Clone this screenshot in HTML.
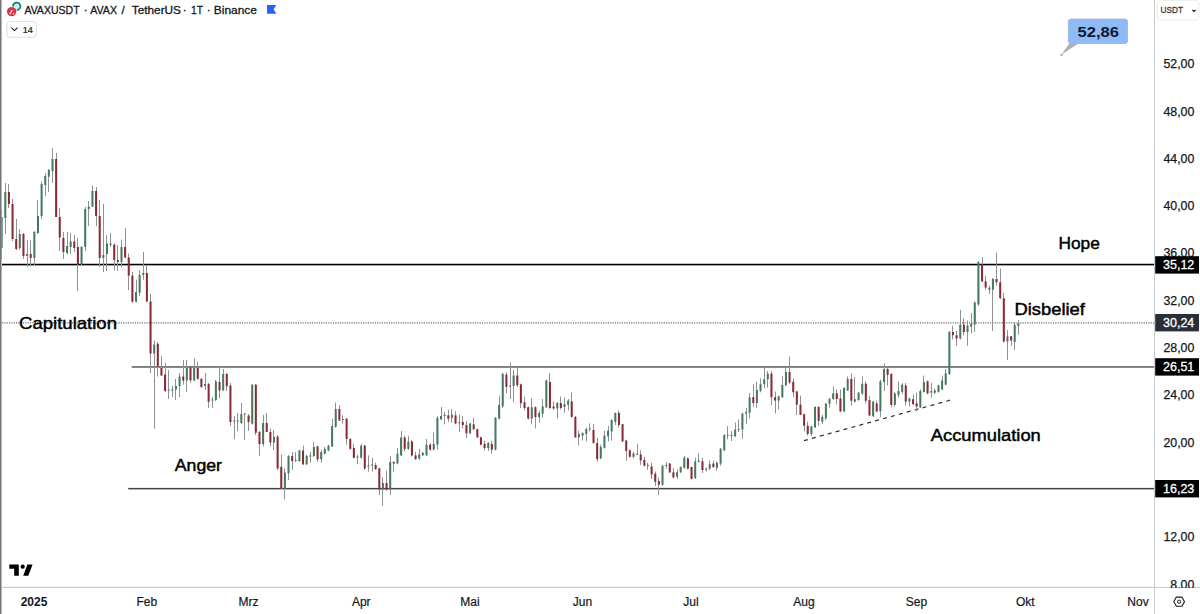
<!DOCTYPE html>
<html><head><meta charset="utf-8"><style>
html,body{margin:0;padding:0;width:1200px;height:614px;overflow:hidden;background:#fff;}
svg{position:absolute;left:0;top:0;font-family:"Liberation Sans",sans-serif;}
.ax{font-size:12.8px;fill:#131722;stroke:#131722;stroke-width:0.25px;}
.tag{font-size:12.5px;fill:#fff;stroke:#fff;stroke-width:0.3px;}
.m{font-size:12px;fill:#131722;stroke:#131722;stroke-width:0.2px;}
.mb{font-size:12px;fill:#131722;font-weight:bold;}
.ann{font-size:17px;fill:#000;stroke:#000;stroke-width:0.45px;}
.ttl{font-size:11.6px;fill:#131722;stroke:#131722;stroke-width:0.3px;}
</style></head><body>
<svg width="1200" height="614" viewBox="0 0 1200 614">
<rect x="0" y="0" width="1200" height="614" fill="#fff"/>
<line x1="2" y1="322.9" x2="1155" y2="322.9" stroke="#707070" stroke-width="1.4" stroke-dasharray="1.2 1.13"/>
<rect x="2" y="263.75" width="1153" height="1.6" fill="#000"/>
<rect x="131.7" y="366.2" width="1023" height="1.5" fill="#5a5a5a"/>
<rect x="128.2" y="487.9" width="1027" height="1.5" fill="#444"/>
<line x1="804" y1="440.6" x2="950" y2="400.2" stroke="#333" stroke-width="1.25" stroke-dasharray="4 4.2"/>
<g>
<rect x="1" y="210.0" width="1" height="49.0" fill="#909194"/>
<rect x="0.65" y="217.0" width="2.05" height="31.0" fill="#467a5f"/>
<rect x="5" y="183.0" width="1" height="51.0" fill="#909194"/>
<rect x="4.28" y="192.0" width="2.05" height="26.0" fill="#467a5f"/>
<rect x="8" y="184.0" width="1" height="24.0" fill="#909194"/>
<rect x="7.91" y="192.0" width="2.05" height="12.0" fill="#8a2a36"/>
<rect x="12" y="199.0" width="1" height="42.0" fill="#909194"/>
<rect x="11.54" y="204.0" width="2.05" height="35.0" fill="#8a2a36"/>
<rect x="16" y="219.0" width="1" height="31.0" fill="#909194"/>
<rect x="15.17" y="239.0" width="2.05" height="10.0" fill="#8a2a36"/>
<rect x="19" y="229.0" width="1" height="21.0" fill="#909194"/>
<rect x="18.80" y="234.0" width="2.05" height="14.0" fill="#467a5f"/>
<rect x="23" y="233.0" width="1" height="26.0" fill="#909194"/>
<rect x="22.43" y="234.0" width="2.05" height="22.0" fill="#8a2a36"/>
<rect x="27" y="240.0" width="1" height="27.0" fill="#909194"/>
<rect x="26.06" y="254.0" width="2.05" height="2.0" fill="#467a5f"/>
<rect x="30" y="240.0" width="1" height="26.0" fill="#909194"/>
<rect x="29.69" y="254.0" width="2.05" height="4.0" fill="#8a2a36"/>
<rect x="34" y="231.0" width="1" height="35.0" fill="#909194"/>
<rect x="33.32" y="232.0" width="2.05" height="26.0" fill="#467a5f"/>
<rect x="37" y="200.0" width="1" height="34.0" fill="#909194"/>
<rect x="36.95" y="216.0" width="2.05" height="17.0" fill="#467a5f"/>
<rect x="41" y="181.5" width="1" height="37.5" fill="#909194"/>
<rect x="40.59" y="184.0" width="2.05" height="32.0" fill="#467a5f"/>
<rect x="45" y="173.0" width="1" height="23.0" fill="#909194"/>
<rect x="44.22" y="176.0" width="2.05" height="9.0" fill="#467a5f"/>
<rect x="48" y="169.0" width="1" height="23.0" fill="#909194"/>
<rect x="47.85" y="170.0" width="2.05" height="6.6" fill="#467a5f"/>
<rect x="52" y="148.0" width="1" height="34.7" fill="#909194"/>
<rect x="51.48" y="159.0" width="2.05" height="12.0" fill="#467a5f"/>
<rect x="56" y="153.0" width="1" height="64.0" fill="#909194"/>
<rect x="55.11" y="159.0" width="2.05" height="58.0" fill="#8a2a36"/>
<rect x="59" y="208.0" width="1" height="43.0" fill="#909194"/>
<rect x="58.74" y="217.0" width="2.05" height="20.5" fill="#8a2a36"/>
<rect x="63" y="232.0" width="1" height="27.0" fill="#909194"/>
<rect x="62.37" y="238.0" width="2.05" height="14.0" fill="#8a2a36"/>
<rect x="67" y="232.0" width="1" height="22.5" fill="#909194"/>
<rect x="66.00" y="246.0" width="2.05" height="7.0" fill="#467a5f"/>
<rect x="70" y="233.0" width="1" height="21.0" fill="#909194"/>
<rect x="69.63" y="241.5" width="2.05" height="5.5" fill="#467a5f"/>
<rect x="74" y="235.0" width="1" height="17.0" fill="#909194"/>
<rect x="73.26" y="241.5" width="2.05" height="6.5" fill="#8a2a36"/>
<rect x="77" y="238.0" width="1" height="53.0" fill="#909194"/>
<rect x="76.90" y="247.0" width="2.05" height="17.0" fill="#8a2a36"/>
<rect x="81" y="246.0" width="1" height="19.0" fill="#909194"/>
<rect x="80.53" y="247.0" width="2.05" height="17.0" fill="#467a5f"/>
<rect x="85" y="207.0" width="1" height="44.0" fill="#909194"/>
<rect x="84.16" y="209.0" width="2.05" height="38.0" fill="#467a5f"/>
<rect x="88" y="201.0" width="1" height="25.0" fill="#909194"/>
<rect x="87.79" y="206.5" width="2.05" height="2.5" fill="#467a5f"/>
<rect x="92" y="185.6" width="1" height="21.4" fill="#909194"/>
<rect x="91.42" y="191.0" width="2.05" height="15.5" fill="#467a5f"/>
<rect x="96" y="187.0" width="1" height="39.0" fill="#909194"/>
<rect x="95.05" y="191.0" width="2.05" height="25.0" fill="#8a2a36"/>
<rect x="99" y="200.0" width="1" height="67.0" fill="#909194"/>
<rect x="98.68" y="216.0" width="2.05" height="42.0" fill="#8a2a36"/>
<rect x="103" y="204.0" width="1" height="68.0" fill="#909194"/>
<rect x="102.31" y="255.0" width="2.05" height="3.0" fill="#467a5f"/>
<rect x="106" y="235.0" width="1" height="36.0" fill="#909194"/>
<rect x="105.94" y="243.5" width="2.05" height="10.5" fill="#467a5f"/>
<rect x="110" y="233.0" width="1" height="14.0" fill="#909194"/>
<rect x="109.57" y="243.5" width="2.05" height="1.5" fill="#467a5f"/>
<rect x="114" y="243.5" width="1" height="26.5" fill="#909194"/>
<rect x="113.21" y="244.5" width="2.05" height="15.5" fill="#8a2a36"/>
<rect x="117" y="245.0" width="1" height="26.0" fill="#909194"/>
<rect x="116.84" y="260.0" width="2.05" height="2.0" fill="#8a2a36"/>
<rect x="121" y="239.5" width="1" height="27.5" fill="#909194"/>
<rect x="120.47" y="247.0" width="2.05" height="15.0" fill="#467a5f"/>
<rect x="125" y="228.0" width="1" height="30.0" fill="#909194"/>
<rect x="124.10" y="247.0" width="2.05" height="10.5" fill="#8a2a36"/>
<rect x="128" y="253.5" width="1" height="36.5" fill="#909194"/>
<rect x="127.73" y="257.5" width="2.05" height="18.1" fill="#8a2a36"/>
<rect x="132" y="272.0" width="1" height="31.0" fill="#909194"/>
<rect x="131.36" y="275.6" width="2.05" height="26.1" fill="#8a2a36"/>
<rect x="136" y="279.7" width="1" height="22.8" fill="#909194"/>
<rect x="134.99" y="292.0" width="2.05" height="9.7" fill="#467a5f"/>
<rect x="139" y="270.0" width="1" height="26.0" fill="#909194"/>
<rect x="138.62" y="275.0" width="2.05" height="17.7" fill="#467a5f"/>
<rect x="143" y="252.0" width="1" height="27.7" fill="#909194"/>
<rect x="142.25" y="273.0" width="2.05" height="2.0" fill="#467a5f"/>
<rect x="146" y="265.0" width="1" height="37.0" fill="#909194"/>
<rect x="145.88" y="273.0" width="2.05" height="28.5" fill="#8a2a36"/>
<rect x="150" y="294.0" width="1" height="79.0" fill="#909194"/>
<rect x="149.52" y="301.5" width="2.05" height="52.0" fill="#8a2a36"/>
<rect x="154" y="340.5" width="1" height="88.1" fill="#909194"/>
<rect x="153.15" y="344.6" width="2.05" height="8.9" fill="#467a5f"/>
<rect x="157" y="342.0" width="1" height="34.5" fill="#909194"/>
<rect x="156.78" y="343.7" width="2.05" height="22.8" fill="#8a2a36"/>
<rect x="161" y="356.0" width="1" height="20.0" fill="#909194"/>
<rect x="160.41" y="368.0" width="2.05" height="7.5" fill="#8a2a36"/>
<rect x="165" y="363.0" width="1" height="29.0" fill="#909194"/>
<rect x="164.04" y="374.5" width="2.05" height="16.5" fill="#8a2a36"/>
<rect x="168" y="370.0" width="1" height="29.0" fill="#909194"/>
<rect x="167.67" y="389.5" width="2.05" height="1.0" fill="#467a5f"/>
<rect x="172" y="386.0" width="1" height="11.0" fill="#909194"/>
<rect x="171.30" y="389.5" width="2.05" height="1.0" fill="#467a5f"/>
<rect x="175" y="379.0" width="1" height="21.0" fill="#909194"/>
<rect x="174.93" y="386.0" width="2.05" height="3.5" fill="#467a5f"/>
<rect x="179" y="373.0" width="1" height="24.0" fill="#909194"/>
<rect x="178.56" y="376.5" width="2.05" height="9.5" fill="#467a5f"/>
<rect x="183" y="360.0" width="1" height="24.6" fill="#909194"/>
<rect x="182.19" y="376.5" width="2.05" height="4.1" fill="#8a2a36"/>
<rect x="186" y="360.0" width="1" height="32.0" fill="#909194"/>
<rect x="185.83" y="368.0" width="2.05" height="12.4" fill="#467a5f"/>
<rect x="190" y="365.7" width="1" height="17.1" fill="#909194"/>
<rect x="189.46" y="367.4" width="2.05" height="13.0" fill="#8a2a36"/>
<rect x="194" y="358.4" width="1" height="22.6" fill="#909194"/>
<rect x="193.09" y="368.0" width="2.05" height="12.4" fill="#467a5f"/>
<rect x="197" y="361.7" width="1" height="17.9" fill="#909194"/>
<rect x="196.72" y="368.0" width="2.05" height="10.8" fill="#8a2a36"/>
<rect x="201" y="378.0" width="1" height="10.0" fill="#909194"/>
<rect x="200.35" y="378.8" width="2.05" height="8.2" fill="#8a2a36"/>
<rect x="205" y="373.0" width="1" height="17.0" fill="#909194"/>
<rect x="203.98" y="384.0" width="2.05" height="2.0" fill="#467a5f"/>
<rect x="208" y="383.0" width="1" height="25.0" fill="#909194"/>
<rect x="207.61" y="384.0" width="2.05" height="17.8" fill="#8a2a36"/>
<rect x="212" y="397.0" width="1" height="11.0" fill="#909194"/>
<rect x="211.24" y="399.5" width="2.05" height="1.0" fill="#467a5f"/>
<rect x="215" y="380.0" width="1" height="21.0" fill="#909194"/>
<rect x="214.87" y="381.4" width="2.05" height="18.6" fill="#467a5f"/>
<rect x="219" y="366.5" width="1" height="32.0" fill="#909194"/>
<rect x="218.50" y="382.0" width="2.05" height="8.4" fill="#8a2a36"/>
<rect x="223" y="369.0" width="1" height="22.0" fill="#909194"/>
<rect x="222.14" y="374.0" width="2.05" height="16.4" fill="#467a5f"/>
<rect x="226" y="373.0" width="1" height="18.0" fill="#909194"/>
<rect x="225.77" y="374.0" width="2.05" height="12.3" fill="#8a2a36"/>
<rect x="230" y="383.0" width="1" height="43.0" fill="#909194"/>
<rect x="229.40" y="385.5" width="2.05" height="36.5" fill="#8a2a36"/>
<rect x="234" y="416.0" width="1" height="23.0" fill="#909194"/>
<rect x="233.03" y="420.5" width="2.05" height="1.0" fill="#467a5f"/>
<rect x="237" y="413.0" width="1" height="18.0" fill="#909194"/>
<rect x="236.66" y="420.5" width="2.05" height="1.0" fill="#467a5f"/>
<rect x="241" y="403.0" width="1" height="21.0" fill="#909194"/>
<rect x="240.29" y="414.0" width="2.05" height="9.0" fill="#467a5f"/>
<rect x="244" y="413.0" width="1" height="27.0" fill="#909194"/>
<rect x="243.92" y="413.5" width="2.05" height="1.0" fill="#467a5f"/>
<rect x="248" y="414.0" width="1" height="17.0" fill="#909194"/>
<rect x="247.55" y="415.6" width="2.05" height="6.4" fill="#8a2a36"/>
<rect x="252" y="384.0" width="1" height="40.5" fill="#909194"/>
<rect x="251.18" y="384.7" width="2.05" height="39.0" fill="#467a5f"/>
<rect x="255" y="384.0" width="1" height="51.0" fill="#909194"/>
<rect x="254.81" y="384.7" width="2.05" height="48.0" fill="#8a2a36"/>
<rect x="259" y="431.0" width="1" height="25.0" fill="#909194"/>
<rect x="258.45" y="432.0" width="2.05" height="12.0" fill="#8a2a36"/>
<rect x="263" y="414.8" width="1" height="31.7" fill="#909194"/>
<rect x="262.08" y="423.0" width="2.05" height="21.0" fill="#467a5f"/>
<rect x="266" y="413.0" width="1" height="19.0" fill="#909194"/>
<rect x="265.71" y="423.0" width="2.05" height="9.0" fill="#8a2a36"/>
<rect x="270" y="428.6" width="1" height="17.9" fill="#909194"/>
<rect x="269.34" y="432.0" width="2.05" height="10.5" fill="#8a2a36"/>
<rect x="273" y="430.0" width="1" height="20.0" fill="#909194"/>
<rect x="272.97" y="436.8" width="2.05" height="5.7" fill="#467a5f"/>
<rect x="277" y="435.0" width="1" height="35.0" fill="#909194"/>
<rect x="276.60" y="436.6" width="2.05" height="31.8" fill="#8a2a36"/>
<rect x="281" y="454.6" width="1" height="34.2" fill="#909194"/>
<rect x="280.23" y="466.8" width="2.05" height="21.2" fill="#8a2a36"/>
<rect x="284" y="468.4" width="1" height="30.9" fill="#909194"/>
<rect x="283.86" y="472.5" width="2.05" height="16.3" fill="#467a5f"/>
<rect x="288" y="455.0" width="1" height="25.0" fill="#909194"/>
<rect x="287.49" y="456.0" width="2.05" height="17.3" fill="#467a5f"/>
<rect x="292" y="452.0" width="1" height="18.0" fill="#909194"/>
<rect x="291.12" y="456.0" width="2.05" height="5.0" fill="#8a2a36"/>
<rect x="295" y="452.0" width="1" height="10.0" fill="#909194"/>
<rect x="294.76" y="460.0" width="2.05" height="1.0" fill="#467a5f"/>
<rect x="299" y="449.7" width="1" height="12.3" fill="#909194"/>
<rect x="298.39" y="450.5" width="2.05" height="10.5" fill="#467a5f"/>
<rect x="303" y="445.6" width="1" height="19.4" fill="#909194"/>
<rect x="302.02" y="450.5" width="2.05" height="13.8" fill="#8a2a36"/>
<rect x="306" y="454.6" width="1" height="10.4" fill="#909194"/>
<rect x="305.65" y="456.0" width="2.05" height="8.3" fill="#467a5f"/>
<rect x="310" y="452.0" width="1" height="10.7" fill="#909194"/>
<rect x="309.28" y="455.5" width="2.05" height="1.0" fill="#467a5f"/>
<rect x="313" y="442.0" width="1" height="15.0" fill="#909194"/>
<rect x="312.91" y="447.0" width="2.05" height="9.0" fill="#467a5f"/>
<rect x="317" y="445.6" width="1" height="16.4" fill="#909194"/>
<rect x="316.54" y="446.4" width="2.05" height="13.0" fill="#8a2a36"/>
<rect x="321" y="449.7" width="1" height="13.0" fill="#909194"/>
<rect x="320.17" y="452.0" width="2.05" height="7.4" fill="#467a5f"/>
<rect x="324" y="447.0" width="1" height="7.6" fill="#909194"/>
<rect x="323.80" y="448.9" width="2.05" height="4.8" fill="#467a5f"/>
<rect x="328" y="444.8" width="1" height="6.5" fill="#909194"/>
<rect x="327.44" y="445.6" width="2.05" height="4.9" fill="#467a5f"/>
<rect x="332" y="418.7" width="1" height="28.3" fill="#909194"/>
<rect x="331.07" y="426.0" width="2.05" height="20.4" fill="#467a5f"/>
<rect x="335" y="402.4" width="1" height="25.3" fill="#909194"/>
<rect x="334.70" y="409.0" width="2.05" height="17.9" fill="#467a5f"/>
<rect x="339" y="405.0" width="1" height="16.0" fill="#909194"/>
<rect x="338.33" y="409.0" width="2.05" height="11.4" fill="#8a2a36"/>
<rect x="342" y="415.5" width="1" height="8.1" fill="#909194"/>
<rect x="341.96" y="419.0" width="2.05" height="1.0" fill="#467a5f"/>
<rect x="346" y="418.0" width="1" height="26.8" fill="#909194"/>
<rect x="345.59" y="418.7" width="2.05" height="20.3" fill="#8a2a36"/>
<rect x="350" y="438.3" width="1" height="11.4" fill="#909194"/>
<rect x="349.22" y="439.0" width="2.05" height="9.9" fill="#8a2a36"/>
<rect x="353" y="444.0" width="1" height="14.6" fill="#909194"/>
<rect x="352.85" y="448.0" width="2.05" height="9.8" fill="#8a2a36"/>
<rect x="357" y="454.6" width="1" height="9.7" fill="#909194"/>
<rect x="356.48" y="456.5" width="2.05" height="1.0" fill="#467a5f"/>
<rect x="361" y="444.0" width="1" height="14.6" fill="#909194"/>
<rect x="360.11" y="445.6" width="2.05" height="12.2" fill="#467a5f"/>
<rect x="364" y="444.8" width="1" height="25.2" fill="#909194"/>
<rect x="363.75" y="445.6" width="2.05" height="22.8" fill="#8a2a36"/>
<rect x="368" y="455.4" width="1" height="16.3" fill="#909194"/>
<rect x="367.38" y="465.5" width="2.05" height="1.0" fill="#467a5f"/>
<rect x="372" y="457.8" width="1" height="13.9" fill="#909194"/>
<rect x="371.01" y="464.5" width="2.05" height="1.0" fill="#467a5f"/>
<rect x="375" y="462.7" width="1" height="7.3" fill="#909194"/>
<rect x="374.64" y="465.0" width="2.05" height="4.0" fill="#8a2a36"/>
<rect x="379" y="467.6" width="1" height="27.4" fill="#909194"/>
<rect x="378.27" y="468.4" width="2.05" height="21.2" fill="#8a2a36"/>
<rect x="382" y="477.4" width="1" height="28.4" fill="#909194"/>
<rect x="381.90" y="483.0" width="2.05" height="6.6" fill="#467a5f"/>
<rect x="386" y="470.8" width="1" height="20.0" fill="#909194"/>
<rect x="385.53" y="483.0" width="2.05" height="6.6" fill="#8a2a36"/>
<rect x="390" y="456.0" width="1" height="39.0" fill="#909194"/>
<rect x="389.16" y="462.0" width="2.05" height="27.6" fill="#467a5f"/>
<rect x="393" y="461.0" width="1" height="10.7" fill="#909194"/>
<rect x="392.79" y="462.0" width="2.05" height="1.5" fill="#8a2a36"/>
<rect x="397" y="448.0" width="1" height="16.3" fill="#909194"/>
<rect x="396.42" y="453.7" width="2.05" height="9.8" fill="#467a5f"/>
<rect x="401" y="431.0" width="1" height="25.0" fill="#909194"/>
<rect x="400.06" y="437.5" width="2.05" height="17.9" fill="#467a5f"/>
<rect x="404" y="435.8" width="1" height="15.5" fill="#909194"/>
<rect x="403.69" y="437.5" width="2.05" height="11.4" fill="#8a2a36"/>
<rect x="408" y="435.8" width="1" height="13.9" fill="#909194"/>
<rect x="407.32" y="441.5" width="2.05" height="7.4" fill="#467a5f"/>
<rect x="411" y="440.0" width="1" height="16.5" fill="#909194"/>
<rect x="410.95" y="441.5" width="2.05" height="13.9" fill="#8a2a36"/>
<rect x="415" y="452.0" width="1" height="8.0" fill="#909194"/>
<rect x="414.58" y="455.4" width="2.05" height="3.6" fill="#8a2a36"/>
<rect x="419" y="448.8" width="1" height="11.2" fill="#909194"/>
<rect x="418.21" y="454.5" width="2.05" height="4.0" fill="#467a5f"/>
<rect x="422" y="452.0" width="1" height="4.0" fill="#909194"/>
<rect x="421.84" y="452.8" width="2.05" height="2.5" fill="#467a5f"/>
<rect x="426" y="439.0" width="1" height="17.0" fill="#909194"/>
<rect x="425.47" y="444.7" width="2.05" height="10.6" fill="#467a5f"/>
<rect x="430" y="443.0" width="1" height="8.0" fill="#909194"/>
<rect x="429.10" y="444.7" width="2.05" height="4.9" fill="#8a2a36"/>
<rect x="433" y="432.5" width="1" height="17.9" fill="#909194"/>
<rect x="432.73" y="443.9" width="2.05" height="5.7" fill="#467a5f"/>
<rect x="437" y="416.0" width="1" height="33.6" fill="#909194"/>
<rect x="436.37" y="417.8" width="2.05" height="26.9" fill="#467a5f"/>
<rect x="441" y="407.0" width="1" height="13.0" fill="#909194"/>
<rect x="440.00" y="416.0" width="2.05" height="3.4" fill="#467a5f"/>
<rect x="444" y="412.0" width="1" height="12.3" fill="#909194"/>
<rect x="443.63" y="415.0" width="2.05" height="1.0" fill="#467a5f"/>
<rect x="448" y="409.7" width="1" height="12.2" fill="#909194"/>
<rect x="447.26" y="415.4" width="2.05" height="3.2" fill="#8a2a36"/>
<rect x="451" y="408.9" width="1" height="13.8" fill="#909194"/>
<rect x="450.89" y="414.6" width="2.05" height="3.2" fill="#467a5f"/>
<rect x="455" y="411.3" width="1" height="13.0" fill="#909194"/>
<rect x="454.52" y="415.4" width="2.05" height="8.1" fill="#8a2a36"/>
<rect x="459" y="414.6" width="1" height="17.1" fill="#909194"/>
<rect x="458.15" y="422.2" width="2.05" height="1.0" fill="#467a5f"/>
<rect x="462" y="416.0" width="1" height="12.4" fill="#909194"/>
<rect x="461.78" y="421.9" width="2.05" height="3.1" fill="#8a2a36"/>
<rect x="466" y="421.0" width="1" height="17.0" fill="#909194"/>
<rect x="465.41" y="425.0" width="2.05" height="8.3" fill="#8a2a36"/>
<rect x="470" y="422.7" width="1" height="11.3" fill="#909194"/>
<rect x="469.04" y="423.5" width="2.05" height="9.8" fill="#467a5f"/>
<rect x="473" y="417.8" width="1" height="12.2" fill="#909194"/>
<rect x="472.68" y="424.3" width="2.05" height="4.9" fill="#8a2a36"/>
<rect x="477" y="428.4" width="1" height="9.6" fill="#909194"/>
<rect x="476.31" y="429.2" width="2.05" height="8.2" fill="#8a2a36"/>
<rect x="480" y="436.6" width="1" height="8.9" fill="#909194"/>
<rect x="479.94" y="437.4" width="2.05" height="7.3" fill="#8a2a36"/>
<rect x="484" y="440.6" width="1" height="9.8" fill="#909194"/>
<rect x="483.57" y="443.9" width="2.05" height="4.1" fill="#8a2a36"/>
<rect x="488" y="442.0" width="1" height="9.0" fill="#909194"/>
<rect x="487.20" y="443.0" width="2.05" height="5.0" fill="#467a5f"/>
<rect x="491" y="440.6" width="1" height="13.0" fill="#909194"/>
<rect x="490.83" y="443.9" width="2.05" height="5.7" fill="#8a2a36"/>
<rect x="495" y="417.0" width="1" height="33.4" fill="#909194"/>
<rect x="494.46" y="417.8" width="2.05" height="31.8" fill="#467a5f"/>
<rect x="499" y="395.8" width="1" height="23.6" fill="#909194"/>
<rect x="498.09" y="404.8" width="2.05" height="13.8" fill="#467a5f"/>
<rect x="502" y="373.0" width="1" height="35.0" fill="#909194"/>
<rect x="501.72" y="373.8" width="2.05" height="32.6" fill="#467a5f"/>
<rect x="506" y="372.2" width="1" height="21.2" fill="#909194"/>
<rect x="505.35" y="374.7" width="2.05" height="12.2" fill="#8a2a36"/>
<rect x="510" y="362.4" width="1" height="36.6" fill="#909194"/>
<rect x="508.99" y="385.5" width="2.05" height="1.0" fill="#467a5f"/>
<rect x="513" y="369.8" width="1" height="32.5" fill="#909194"/>
<rect x="512.62" y="375.5" width="2.05" height="10.5" fill="#467a5f"/>
<rect x="517" y="367.3" width="1" height="19.6" fill="#909194"/>
<rect x="516.25" y="375.5" width="2.05" height="9.7" fill="#8a2a36"/>
<rect x="520" y="383.6" width="1" height="24.4" fill="#909194"/>
<rect x="519.88" y="384.4" width="2.05" height="18.8" fill="#8a2a36"/>
<rect x="524" y="396.6" width="1" height="13.9" fill="#909194"/>
<rect x="523.51" y="402.3" width="2.05" height="5.7" fill="#8a2a36"/>
<rect x="528" y="406.4" width="1" height="13.0" fill="#909194"/>
<rect x="527.14" y="407.2" width="2.05" height="11.4" fill="#8a2a36"/>
<rect x="531" y="398.3" width="1" height="26.0" fill="#909194"/>
<rect x="530.77" y="407.2" width="2.05" height="11.4" fill="#467a5f"/>
<rect x="535" y="406.4" width="1" height="22.0" fill="#909194"/>
<rect x="534.40" y="407.2" width="2.05" height="9.8" fill="#8a2a36"/>
<rect x="539" y="410.5" width="1" height="12.2" fill="#909194"/>
<rect x="538.03" y="413.0" width="2.05" height="4.0" fill="#467a5f"/>
<rect x="542" y="399.0" width="1" height="18.8" fill="#909194"/>
<rect x="541.66" y="406.4" width="2.05" height="7.3" fill="#467a5f"/>
<rect x="546" y="379.6" width="1" height="28.4" fill="#909194"/>
<rect x="545.29" y="380.4" width="2.05" height="26.8" fill="#467a5f"/>
<rect x="549" y="373.0" width="1" height="35.9" fill="#909194"/>
<rect x="548.93" y="382.0" width="2.05" height="26.0" fill="#8a2a36"/>
<rect x="553" y="401.5" width="1" height="8.2" fill="#909194"/>
<rect x="552.56" y="406.5" width="2.05" height="2.0" fill="#8a2a36"/>
<rect x="557" y="402.2" width="1" height="16.3" fill="#909194"/>
<rect x="556.19" y="403.0" width="2.05" height="5.5" fill="#467a5f"/>
<rect x="560" y="396.5" width="1" height="13.0" fill="#909194"/>
<rect x="559.82" y="403.0" width="2.05" height="5.0" fill="#8a2a36"/>
<rect x="564" y="397.3" width="1" height="15.5" fill="#909194"/>
<rect x="563.45" y="404.0" width="2.05" height="3.0" fill="#467a5f"/>
<rect x="568" y="399.0" width="1" height="11.4" fill="#909194"/>
<rect x="567.08" y="400.6" width="2.05" height="4.1" fill="#467a5f"/>
<rect x="571" y="392.4" width="1" height="25.3" fill="#909194"/>
<rect x="570.71" y="401.4" width="2.05" height="15.5" fill="#8a2a36"/>
<rect x="575" y="416.0" width="1" height="22.0" fill="#909194"/>
<rect x="574.34" y="416.9" width="2.05" height="20.3" fill="#8a2a36"/>
<rect x="578" y="430.7" width="1" height="14.7" fill="#909194"/>
<rect x="577.97" y="434.0" width="2.05" height="3.2" fill="#467a5f"/>
<rect x="582" y="432.3" width="1" height="8.2" fill="#909194"/>
<rect x="581.60" y="433.0" width="2.05" height="2.6" fill="#467a5f"/>
<rect x="586" y="427.5" width="1" height="13.8" fill="#909194"/>
<rect x="585.24" y="429.0" width="2.05" height="5.0" fill="#467a5f"/>
<rect x="589" y="423.4" width="1" height="8.1" fill="#909194"/>
<rect x="588.87" y="428.5" width="2.05" height="1.0" fill="#467a5f"/>
<rect x="593" y="424.2" width="1" height="19.5" fill="#909194"/>
<rect x="592.50" y="430.0" width="2.05" height="13.0" fill="#8a2a36"/>
<rect x="597" y="438.0" width="1" height="23.7" fill="#909194"/>
<rect x="596.13" y="443.0" width="2.05" height="16.2" fill="#8a2a36"/>
<rect x="600" y="444.6" width="1" height="14.6" fill="#909194"/>
<rect x="599.76" y="447.0" width="2.05" height="11.4" fill="#467a5f"/>
<rect x="604" y="430.7" width="1" height="17.9" fill="#909194"/>
<rect x="603.39" y="435.6" width="2.05" height="12.2" fill="#467a5f"/>
<rect x="608" y="425.8" width="1" height="15.5" fill="#909194"/>
<rect x="607.02" y="430.7" width="2.05" height="5.7" fill="#467a5f"/>
<rect x="611" y="419.3" width="1" height="21.2" fill="#909194"/>
<rect x="610.65" y="420.0" width="2.05" height="11.5" fill="#467a5f"/>
<rect x="615" y="412.8" width="1" height="12.2" fill="#909194"/>
<rect x="614.28" y="412.8" width="2.05" height="9.0" fill="#467a5f"/>
<rect x="618" y="410.4" width="1" height="17.1" fill="#909194"/>
<rect x="617.91" y="412.8" width="2.05" height="12.2" fill="#8a2a36"/>
<rect x="622" y="424.2" width="1" height="17.8" fill="#909194"/>
<rect x="621.55" y="424.2" width="2.05" height="17.1" fill="#8a2a36"/>
<rect x="626" y="439.7" width="1" height="21.1" fill="#909194"/>
<rect x="625.18" y="440.5" width="2.05" height="10.5" fill="#8a2a36"/>
<rect x="629" y="449.5" width="1" height="8.0" fill="#909194"/>
<rect x="628.81" y="450.3" width="2.05" height="6.5" fill="#8a2a36"/>
<rect x="633" y="452.0" width="1" height="6.4" fill="#909194"/>
<rect x="632.44" y="453.5" width="2.05" height="3.3" fill="#467a5f"/>
<rect x="637" y="443.7" width="1" height="11.3" fill="#909194"/>
<rect x="636.07" y="453.8" width="2.05" height="1.0" fill="#467a5f"/>
<rect x="640" y="450.3" width="1" height="14.7" fill="#909194"/>
<rect x="639.70" y="454.5" width="2.05" height="6.0" fill="#8a2a36"/>
<rect x="644" y="456.8" width="1" height="9.7" fill="#909194"/>
<rect x="643.33" y="460.0" width="2.05" height="5.7" fill="#8a2a36"/>
<rect x="647" y="462.7" width="1" height="7.1" fill="#909194"/>
<rect x="646.96" y="464.9" width="2.05" height="1.0" fill="#467a5f"/>
<rect x="651" y="462.7" width="1" height="16.2" fill="#909194"/>
<rect x="650.59" y="466.4" width="2.05" height="8.1" fill="#8a2a36"/>
<rect x="655" y="471.5" width="1" height="14.7" fill="#909194"/>
<rect x="654.22" y="473.7" width="2.05" height="8.1" fill="#8a2a36"/>
<rect x="658" y="477.4" width="1" height="17.6" fill="#909194"/>
<rect x="657.86" y="481.0" width="2.05" height="3.7" fill="#8a2a36"/>
<rect x="662" y="465.0" width="1" height="21.0" fill="#909194"/>
<rect x="661.49" y="465.7" width="2.05" height="19.0" fill="#467a5f"/>
<rect x="666" y="462.0" width="1" height="6.6" fill="#909194"/>
<rect x="665.12" y="465.0" width="2.05" height="1.0" fill="#467a5f"/>
<rect x="669" y="463.0" width="1" height="10.0" fill="#909194"/>
<rect x="668.75" y="463.5" width="2.05" height="8.8" fill="#8a2a36"/>
<rect x="673" y="468.0" width="1" height="10.5" fill="#909194"/>
<rect x="672.38" y="472.3" width="2.05" height="5.1" fill="#8a2a36"/>
<rect x="677" y="469.3" width="1" height="9.6" fill="#909194"/>
<rect x="676.01" y="472.3" width="2.05" height="4.4" fill="#467a5f"/>
<rect x="680" y="466.5" width="1" height="6.5" fill="#909194"/>
<rect x="679.64" y="467.0" width="2.05" height="5.3" fill="#467a5f"/>
<rect x="684" y="456.0" width="1" height="12.6" fill="#909194"/>
<rect x="683.27" y="457.6" width="2.05" height="10.3" fill="#467a5f"/>
<rect x="687" y="457.6" width="1" height="11.9" fill="#909194"/>
<rect x="686.90" y="458.4" width="2.05" height="10.2" fill="#8a2a36"/>
<rect x="691" y="466.5" width="1" height="13.0" fill="#909194"/>
<rect x="690.53" y="467.0" width="2.05" height="11.9" fill="#8a2a36"/>
<rect x="695" y="457.6" width="1" height="21.4" fill="#909194"/>
<rect x="694.17" y="461.3" width="2.05" height="16.8" fill="#467a5f"/>
<rect x="698" y="453.2" width="1" height="9.5" fill="#909194"/>
<rect x="697.80" y="460.6" width="2.05" height="1.2" fill="#467a5f"/>
<rect x="702" y="457.6" width="1" height="15.4" fill="#909194"/>
<rect x="701.43" y="461.3" width="2.05" height="8.7" fill="#8a2a36"/>
<rect x="706" y="467.5" width="1" height="4.0" fill="#909194"/>
<rect x="705.06" y="468.6" width="2.05" height="1.2" fill="#467a5f"/>
<rect x="709" y="460.5" width="1" height="9.5" fill="#909194"/>
<rect x="708.69" y="464.2" width="2.05" height="4.4" fill="#467a5f"/>
<rect x="713" y="460.5" width="1" height="7.5" fill="#909194"/>
<rect x="712.32" y="463.5" width="2.05" height="3.5" fill="#8a2a36"/>
<rect x="716" y="461.3" width="1" height="9.5" fill="#909194"/>
<rect x="715.95" y="462.7" width="2.05" height="5.2" fill="#467a5f"/>
<rect x="720" y="448.0" width="1" height="17.7" fill="#909194"/>
<rect x="719.58" y="448.8" width="2.05" height="14.7" fill="#467a5f"/>
<rect x="724" y="434.2" width="1" height="16.8" fill="#909194"/>
<rect x="723.21" y="435.0" width="2.05" height="15.3" fill="#467a5f"/>
<rect x="727" y="426.0" width="1" height="13.3" fill="#909194"/>
<rect x="726.84" y="434.7" width="2.05" height="1.0" fill="#467a5f"/>
<rect x="731" y="431.0" width="1" height="10.0" fill="#909194"/>
<rect x="730.48" y="435.0" width="2.05" height="1.0" fill="#467a5f"/>
<rect x="735" y="422.5" width="1" height="14.5" fill="#909194"/>
<rect x="734.11" y="429.5" width="2.05" height="6.8" fill="#467a5f"/>
<rect x="738" y="419.3" width="1" height="12.7" fill="#909194"/>
<rect x="737.74" y="429.0" width="2.05" height="1.0" fill="#467a5f"/>
<rect x="742" y="412.7" width="1" height="26.0" fill="#909194"/>
<rect x="741.37" y="413.6" width="2.05" height="15.8" fill="#467a5f"/>
<rect x="746" y="408.0" width="1" height="16.3" fill="#909194"/>
<rect x="745.00" y="411.9" width="2.05" height="1.6" fill="#467a5f"/>
<rect x="749" y="393.0" width="1" height="25.4" fill="#909194"/>
<rect x="748.63" y="397.2" width="2.05" height="15.5" fill="#467a5f"/>
<rect x="753" y="384.2" width="1" height="22.8" fill="#909194"/>
<rect x="752.26" y="397.2" width="2.05" height="5.8" fill="#8a2a36"/>
<rect x="756" y="381.8" width="1" height="26.0" fill="#909194"/>
<rect x="755.89" y="390.0" width="2.05" height="13.0" fill="#467a5f"/>
<rect x="760" y="378.5" width="1" height="13.8" fill="#909194"/>
<rect x="759.52" y="384.2" width="2.05" height="6.5" fill="#467a5f"/>
<rect x="764" y="368.0" width="1" height="20.3" fill="#909194"/>
<rect x="763.15" y="379.3" width="2.05" height="4.9" fill="#467a5f"/>
<rect x="767" y="371.0" width="1" height="16.5" fill="#909194"/>
<rect x="766.79" y="373.6" width="2.05" height="5.7" fill="#467a5f"/>
<rect x="771" y="371.0" width="1" height="34.4" fill="#909194"/>
<rect x="770.42" y="373.6" width="2.05" height="23.6" fill="#8a2a36"/>
<rect x="775" y="391.5" width="1" height="22.0" fill="#909194"/>
<rect x="774.05" y="397.2" width="2.05" height="3.3" fill="#8a2a36"/>
<rect x="778" y="395.6" width="1" height="13.8" fill="#909194"/>
<rect x="777.68" y="396.4" width="2.05" height="4.1" fill="#467a5f"/>
<rect x="782" y="376.0" width="1" height="22.0" fill="#909194"/>
<rect x="781.31" y="385.0" width="2.05" height="12.2" fill="#467a5f"/>
<rect x="785" y="367.0" width="1" height="19.6" fill="#909194"/>
<rect x="784.94" y="372.0" width="2.05" height="13.0" fill="#467a5f"/>
<rect x="789" y="356.5" width="1" height="27.7" fill="#909194"/>
<rect x="788.57" y="372.0" width="2.05" height="10.6" fill="#8a2a36"/>
<rect x="793" y="378.5" width="1" height="18.7" fill="#909194"/>
<rect x="792.20" y="381.8" width="2.05" height="10.5" fill="#8a2a36"/>
<rect x="796" y="390.7" width="1" height="24.3" fill="#909194"/>
<rect x="795.83" y="391.5" width="2.05" height="13.1" fill="#8a2a36"/>
<rect x="800" y="395.6" width="1" height="19.4" fill="#909194"/>
<rect x="799.46" y="404.6" width="2.05" height="10.4" fill="#8a2a36"/>
<rect x="804" y="413.5" width="1" height="17.9" fill="#909194"/>
<rect x="803.10" y="414.3" width="2.05" height="11.4" fill="#8a2a36"/>
<rect x="807" y="421.7" width="1" height="13.8" fill="#909194"/>
<rect x="806.73" y="425.7" width="2.05" height="8.2" fill="#8a2a36"/>
<rect x="811" y="425.7" width="1" height="10.6" fill="#909194"/>
<rect x="810.36" y="426.5" width="2.05" height="7.4" fill="#467a5f"/>
<rect x="815" y="406.2" width="1" height="21.8" fill="#909194"/>
<rect x="813.99" y="407.0" width="2.05" height="20.4" fill="#467a5f"/>
<rect x="818" y="406.2" width="1" height="19.5" fill="#909194"/>
<rect x="817.62" y="407.0" width="2.05" height="13.8" fill="#8a2a36"/>
<rect x="822" y="415.0" width="1" height="9.0" fill="#909194"/>
<rect x="821.25" y="416.8" width="2.05" height="4.9" fill="#467a5f"/>
<rect x="825" y="403.0" width="1" height="17.0" fill="#909194"/>
<rect x="824.88" y="403.7" width="2.05" height="14.7" fill="#467a5f"/>
<rect x="829" y="398.0" width="1" height="9.8" fill="#909194"/>
<rect x="828.51" y="398.9" width="2.05" height="4.8" fill="#467a5f"/>
<rect x="833" y="386.4" width="1" height="13.6" fill="#909194"/>
<rect x="832.14" y="393.3" width="2.05" height="5.7" fill="#467a5f"/>
<rect x="836" y="389.2" width="1" height="15.3" fill="#909194"/>
<rect x="835.77" y="393.3" width="2.05" height="5.7" fill="#8a2a36"/>
<rect x="840" y="389.4" width="1" height="22.8" fill="#909194"/>
<rect x="839.41" y="398.4" width="2.05" height="13.0" fill="#8a2a36"/>
<rect x="844" y="387.5" width="1" height="24.5" fill="#909194"/>
<rect x="843.04" y="387.8" width="2.05" height="23.6" fill="#467a5f"/>
<rect x="847" y="376.4" width="1" height="14.6" fill="#909194"/>
<rect x="846.67" y="378.9" width="2.05" height="11.4" fill="#467a5f"/>
<rect x="851" y="373.2" width="1" height="32.5" fill="#909194"/>
<rect x="850.30" y="378.9" width="2.05" height="21.9" fill="#8a2a36"/>
<rect x="854" y="377.2" width="1" height="25.3" fill="#909194"/>
<rect x="853.93" y="399.2" width="2.05" height="2.4" fill="#467a5f"/>
<rect x="858" y="391.9" width="1" height="8.9" fill="#909194"/>
<rect x="857.56" y="392.7" width="2.05" height="7.3" fill="#467a5f"/>
<rect x="862" y="376.4" width="1" height="18.7" fill="#909194"/>
<rect x="861.19" y="383.7" width="2.05" height="9.8" fill="#467a5f"/>
<rect x="865" y="381.3" width="1" height="22.0" fill="#909194"/>
<rect x="864.82" y="383.7" width="2.05" height="17.1" fill="#8a2a36"/>
<rect x="869" y="396.0" width="1" height="20.3" fill="#909194"/>
<rect x="868.45" y="400.0" width="2.05" height="15.5" fill="#8a2a36"/>
<rect x="873" y="400.8" width="1" height="16.3" fill="#909194"/>
<rect x="872.08" y="401.6" width="2.05" height="14.7" fill="#467a5f"/>
<rect x="876" y="400.8" width="1" height="11.4" fill="#909194"/>
<rect x="875.72" y="403.3" width="2.05" height="8.1" fill="#8a2a36"/>
<rect x="880" y="379.7" width="1" height="37.4" fill="#909194"/>
<rect x="879.35" y="381.3" width="2.05" height="30.1" fill="#467a5f"/>
<rect x="884" y="363.4" width="1" height="27.6" fill="#909194"/>
<rect x="882.98" y="369.0" width="2.05" height="13.0" fill="#467a5f"/>
<rect x="887" y="367.5" width="1" height="17.9" fill="#909194"/>
<rect x="886.61" y="369.0" width="2.05" height="5.8" fill="#8a2a36"/>
<rect x="891" y="373.2" width="1" height="34.2" fill="#909194"/>
<rect x="890.24" y="374.0" width="2.05" height="30.9" fill="#8a2a36"/>
<rect x="894" y="391.9" width="1" height="14.6" fill="#909194"/>
<rect x="893.87" y="393.5" width="2.05" height="11.4" fill="#467a5f"/>
<rect x="898" y="381.3" width="1" height="16.3" fill="#909194"/>
<rect x="897.50" y="391.0" width="2.05" height="4.1" fill="#467a5f"/>
<rect x="902" y="383.0" width="1" height="11.3" fill="#909194"/>
<rect x="901.13" y="384.6" width="2.05" height="7.3" fill="#467a5f"/>
<rect x="905" y="383.0" width="1" height="22.7" fill="#909194"/>
<rect x="904.76" y="385.4" width="2.05" height="16.2" fill="#8a2a36"/>
<rect x="909" y="397.6" width="1" height="8.9" fill="#909194"/>
<rect x="908.39" y="398.4" width="2.05" height="3.2" fill="#467a5f"/>
<rect x="913" y="394.3" width="1" height="10.7" fill="#909194"/>
<rect x="912.03" y="399.2" width="2.05" height="4.9" fill="#8a2a36"/>
<rect x="916" y="392.7" width="1" height="18.7" fill="#909194"/>
<rect x="915.66" y="403.3" width="2.05" height="3.2" fill="#8a2a36"/>
<rect x="920" y="389.5" width="1" height="18.5" fill="#909194"/>
<rect x="919.29" y="391.0" width="2.05" height="16.4" fill="#467a5f"/>
<rect x="923" y="375.6" width="1" height="17.1" fill="#909194"/>
<rect x="922.92" y="382.0" width="2.05" height="9.9" fill="#467a5f"/>
<rect x="927" y="380.5" width="1" height="13.8" fill="#909194"/>
<rect x="926.55" y="381.3" width="2.05" height="12.2" fill="#8a2a36"/>
<rect x="931" y="383.0" width="1" height="14.6" fill="#909194"/>
<rect x="930.18" y="391.0" width="2.05" height="1.7" fill="#467a5f"/>
<rect x="934" y="388.6" width="1" height="5.7" fill="#909194"/>
<rect x="933.81" y="390.3" width="2.05" height="2.4" fill="#467a5f"/>
<rect x="938" y="384.6" width="1" height="8.1" fill="#909194"/>
<rect x="937.44" y="385.4" width="2.05" height="6.5" fill="#467a5f"/>
<rect x="942" y="375.6" width="1" height="14.7" fill="#909194"/>
<rect x="941.07" y="380.5" width="2.05" height="8.9" fill="#467a5f"/>
<rect x="945" y="369.0" width="1" height="16.4" fill="#909194"/>
<rect x="944.70" y="373.2" width="2.05" height="11.4" fill="#467a5f"/>
<rect x="949" y="331.0" width="1" height="43.8" fill="#909194"/>
<rect x="948.34" y="332.0" width="2.05" height="42.0" fill="#467a5f"/>
<rect x="952" y="325.7" width="1" height="13.7" fill="#909194"/>
<rect x="951.97" y="332.0" width="2.05" height="3.2" fill="#8a2a36"/>
<rect x="956" y="331.0" width="1" height="14.8" fill="#909194"/>
<rect x="955.60" y="335.2" width="2.05" height="3.2" fill="#8a2a36"/>
<rect x="960" y="309.8" width="1" height="29.6" fill="#909194"/>
<rect x="959.23" y="324.6" width="2.05" height="13.8" fill="#467a5f"/>
<rect x="963" y="318.3" width="1" height="16.9" fill="#909194"/>
<rect x="962.86" y="324.6" width="2.05" height="7.4" fill="#8a2a36"/>
<rect x="967" y="320.4" width="1" height="25.4" fill="#909194"/>
<rect x="966.49" y="325.7" width="2.05" height="6.3" fill="#467a5f"/>
<rect x="971" y="313.0" width="1" height="20.0" fill="#909194"/>
<rect x="970.12" y="323.6" width="2.05" height="3.1" fill="#467a5f"/>
<rect x="974" y="301.4" width="1" height="30.6" fill="#909194"/>
<rect x="973.75" y="302.4" width="2.05" height="22.2" fill="#467a5f"/>
<rect x="978" y="261.0" width="1" height="44.6" fill="#909194"/>
<rect x="977.38" y="262.2" width="2.05" height="42.3" fill="#467a5f"/>
<rect x="982" y="257.0" width="1" height="25.3" fill="#909194"/>
<rect x="981.01" y="264.3" width="2.05" height="17.0" fill="#8a2a36"/>
<rect x="985" y="276.0" width="1" height="13.7" fill="#909194"/>
<rect x="984.65" y="281.3" width="2.05" height="6.3" fill="#8a2a36"/>
<rect x="989" y="285.5" width="1" height="8.5" fill="#909194"/>
<rect x="988.28" y="287.6" width="2.05" height="2.1" fill="#467a5f"/>
<rect x="992" y="278.0" width="1" height="53.0" fill="#909194"/>
<rect x="991.91" y="279.0" width="2.05" height="10.7" fill="#467a5f"/>
<rect x="996" y="252.7" width="1" height="32.8" fill="#909194"/>
<rect x="995.54" y="279.0" width="2.05" height="3.3" fill="#8a2a36"/>
<rect x="1000" y="268.6" width="1" height="30.6" fill="#909194"/>
<rect x="999.17" y="282.3" width="2.05" height="15.9" fill="#8a2a36"/>
<rect x="1003" y="292.9" width="1" height="49.7" fill="#909194"/>
<rect x="1002.80" y="298.2" width="2.05" height="43.3" fill="#8a2a36"/>
<rect x="1007" y="330.0" width="1" height="30.0" fill="#909194"/>
<rect x="1006.43" y="336.3" width="2.05" height="5.2" fill="#467a5f"/>
<rect x="1011" y="336.0" width="1" height="10.0" fill="#909194"/>
<rect x="1010.06" y="336.3" width="2.05" height="4.2" fill="#8a2a36"/>
<rect x="1014" y="322.5" width="1" height="27.5" fill="#909194"/>
<rect x="1013.69" y="325.0" width="2.05" height="17.0" fill="#467a5f"/>
<rect x="1018" y="320.0" width="1" height="14.7" fill="#909194"/>
<rect x="1017.32" y="323.0" width="2.05" height="3.0" fill="#467a5f"/>
</g>
<text x="19.0" y="328.8" class="ann" textLength="98" lengthAdjust="spacingAndGlyphs">Capitulation</text>
<text x="174.8" y="470.7" class="ann" textLength="47.2" lengthAdjust="spacingAndGlyphs">Anger</text>
<text x="1058.4" y="248.7" class="ann" textLength="41.4" lengthAdjust="spacingAndGlyphs">Hope</text>
<text x="1014.5" y="315.3" class="ann" textLength="70.4" lengthAdjust="spacingAndGlyphs">Disbelief</text>
<text x="930.8" y="441.3" class="ann" textLength="110" lengthAdjust="spacingAndGlyphs">Accumulation</text>
<rect x="1154" y="0" width="1.2" height="614" fill="#c9cbcf"/>
<rect x="2" y="586.8" width="1198" height="1.2" fill="#c9cbcf"/>
<rect x="1155.2" y="0" width="44.8" height="586.8" fill="#fff"/>
<text x="1194.4" y="68.3" class="ax" text-anchor="end" textLength="31.0" lengthAdjust="spacingAndGlyphs">52,00</text>
<text x="1194.4" y="115.5" class="ax" text-anchor="end" textLength="31.0" lengthAdjust="spacingAndGlyphs">48,00</text>
<text x="1194.4" y="162.8" class="ax" text-anchor="end" textLength="31.0" lengthAdjust="spacingAndGlyphs">44,00</text>
<text x="1194.4" y="210.1" class="ax" text-anchor="end" textLength="31.0" lengthAdjust="spacingAndGlyphs">40,00</text>
<text x="1194.4" y="257.4" class="ax" text-anchor="end" textLength="31.0" lengthAdjust="spacingAndGlyphs">36,00</text>
<text x="1194.4" y="304.7" class="ax" text-anchor="end" textLength="31.0" lengthAdjust="spacingAndGlyphs">32,00</text>
<text x="1194.4" y="351.9" class="ax" text-anchor="end" textLength="31.0" lengthAdjust="spacingAndGlyphs">28,00</text>
<text x="1194.4" y="399.2" class="ax" text-anchor="end" textLength="31.0" lengthAdjust="spacingAndGlyphs">24,00</text>
<text x="1194.4" y="446.5" class="ax" text-anchor="end" textLength="31.0" lengthAdjust="spacingAndGlyphs">20,00</text>
<text x="1194.4" y="541.1" class="ax" text-anchor="end" textLength="31.0" lengthAdjust="spacingAndGlyphs">12,00</text>
<text x="1194.4" y="589.3" class="ax" text-anchor="end" textLength="24.1" lengthAdjust="spacingAndGlyphs">8,00</text>
<rect x="1155.2" y="256.2" width="43.8" height="17.4" fill="#000"/><text x="1194.3" y="268.8" class="tag" text-anchor="end">35,12</text>
<rect x="1155.2" y="314.0" width="43.8" height="17.4" fill="#2a2e39"/><text x="1194.3" y="326.6" class="tag" text-anchor="end">30,24</text>
<rect x="1155.2" y="358.2" width="43.8" height="17.4" fill="#000"/><text x="1194.3" y="370.8" class="tag" text-anchor="end">26,51</text>
<rect x="1155.2" y="480.0" width="43.8" height="17.4" fill="#000"/><text x="1194.3" y="492.6" class="tag" text-anchor="end">16,23</text>
<rect x="1155.2" y="588" width="44.8" height="26" fill="#fff"/>
<text x="34" y="605.5" class="mb" text-anchor="middle">2025</text>
<text x="146.75" y="605.5" class="m" text-anchor="middle">Feb</text>
<text x="248.4" y="605.5" class="m" text-anchor="middle">Mrz</text>
<text x="361.25" y="605.5" class="m" text-anchor="middle">Apr</text>
<text x="469.9" y="605.5" class="m" text-anchor="middle">Mai</text>
<text x="582.5" y="605.5" class="m" text-anchor="middle">Jun</text>
<text x="691" y="605.5" class="m" text-anchor="middle">Jul</text>
<text x="804" y="605.5" class="m" text-anchor="middle">Aug</text>
<text x="916.5" y="605.5" class="m" text-anchor="middle">Sep</text>
<text x="1025.25" y="605.5" class="m" text-anchor="middle">Okt</text>
<text x="1138" y="605.5" class="m" text-anchor="middle">Nov</text>
<polygon points="1173.8,601.7 1176.4,597.1 1181.9,597.1 1184.5,601.7 1181.9,606.3 1176.4,606.3" fill="none" stroke="#1a1c22" stroke-width="1.1" stroke-linejoin="round"/>
<circle cx="1179.1" cy="601.7" r="1.6" fill="none" stroke="#1a1c22" stroke-width="1"/>
<rect x="1157.5" y="0.3" width="41.5" height="19.8" rx="3" fill="#fff" stroke="#ededef" stroke-width="1"/>
<text x="1160.6" y="13.2" textLength="22.4" lengthAdjust="spacingAndGlyphs" style="font-size:9.8px;fill:#34373d;stroke:#34373d;stroke-width:0.3px">USDT</text>
<path d="M1192.3 9.8 L1194 11.5 L1195.7 9.8" fill="none" stroke="#131722" stroke-width="1.1"/>
<path d="M1061.4 54.8 L1069.6 43 L1079 43 Z" fill="#a9b0ba"/>
<circle cx="1061.4" cy="54.8" r="1.1" fill="#999"/>
<rect x="1068.3" y="19.1" width="59.2" height="24.4" rx="2.5" fill="#90b9f7" stroke="#9fb2cf" stroke-width="0.8"/>
<text x="1077.5" y="36.9" textLength="41.4" lengthAdjust="spacingAndGlyphs" style="font-size:14.8px;font-weight:bold;fill:#0e1a30">52,86</text>
<circle cx="16.7" cy="6.35" r="3.7" fill="#c9eef0" stroke="#14806f" stroke-width="1.8"/>
<circle cx="11.65" cy="11.6" r="5.4" fill="#fff"/>
<circle cx="11.65" cy="11.6" r="4.7" fill="#dc3342"/>
<path d="M9.9 14.2 L12.2 10" stroke="#fff" stroke-width="1.2"/>
<path d="M12.6 14.3 H14.4 L13.5 12.6 Z" fill="#fff"/>
<text x="24.4" y="13.8" class="ttl" textLength="55.2" lengthAdjust="spacingAndGlyphs">AVAXUSDT</text>
<text x="85.8" y="13.8" class="ttl" text-anchor="middle">·</text>
<text x="90.2" y="13.8" class="ttl" textLength="26.8" lengthAdjust="spacingAndGlyphs">AVAX</text>
<text x="123.2" y="13.8" class="ttl" text-anchor="middle">/</text>
<text x="131.8" y="13.8" class="ttl" textLength="49.2" lengthAdjust="spacingAndGlyphs">TetherUS</text>
<text x="184.7" y="13.8" class="ttl" text-anchor="middle">·</text>
<text x="191.0" y="13.8" class="ttl" textLength="12" lengthAdjust="spacingAndGlyphs">1T</text>
<text x="208.7" y="13.8" class="ttl" text-anchor="middle">·</text>
<text x="213.8" y="13.8" class="ttl" textLength="43.2" lengthAdjust="spacingAndGlyphs">Binance</text>
<path d="M267 5 L276.4 5 L273.6 9.3 L276.4 13.7 L267 13.7 Z" fill="#2962ff"/>
<rect x="7" y="21.6" width="29.3" height="15.6" rx="2.5" fill="#fff" stroke="#dedfe2" stroke-width="1"/>
<path d="M11.3 27.7 L14.4 30.6 L17.5 27.7" fill="none" stroke="#131722" stroke-width="1.1"/>
<text x="22.7" y="32.8" textLength="10" lengthAdjust="spacingAndGlyphs" style="font-size:9.7px;font-weight:bold;fill:#3a3d44">14</text>
<path d="M9.3 564.5 H18.8 V575.8 H14.2 V568.7 H9.3 Z" fill="#000"/>
<circle cx="22.7" cy="566.7" r="2.1" fill="#000"/>
<path d="M27.4 564.5 H32.6 L28.3 575.8 H23.2 Z" fill="#000"/>
<rect x="0" y="0" width="1" height="614" fill="#747474"/><rect x="1" y="0" width="0.7" height="614" fill="#9a9a9a"/>
</svg>
</body></html>
